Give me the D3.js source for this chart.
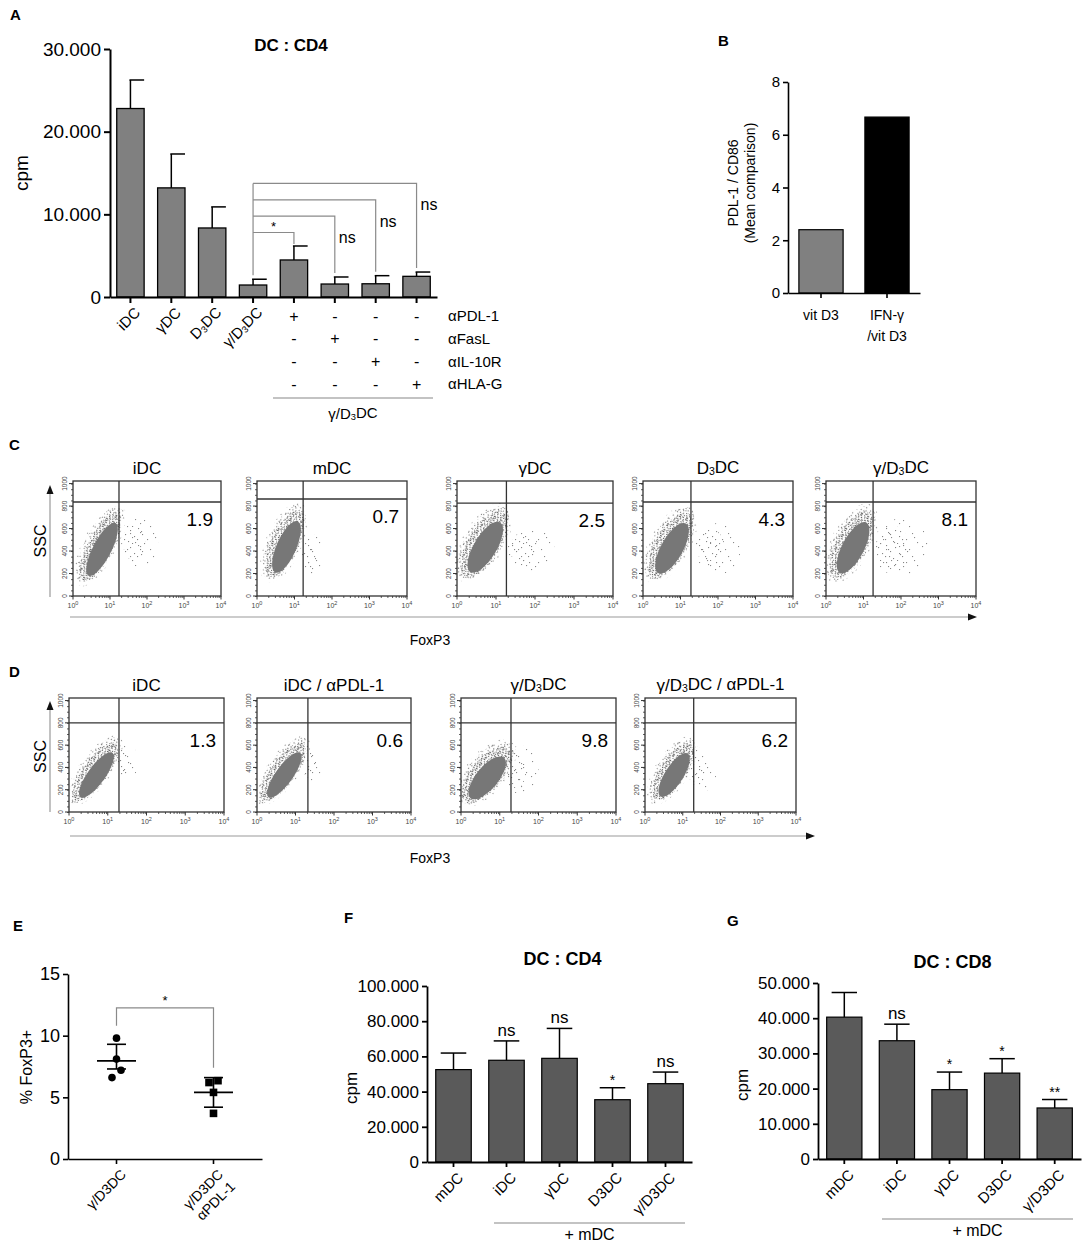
<!DOCTYPE html>
<html>
<head>
<meta charset="utf-8">
<script src="https://cdn.jsdelivr.net/npm/d3@7"></script>
<style>
  body { margin: 0; background: #fff; }
  svg { display: block; font-family: "Liberation Sans", Arial, sans-serif; }
</style>
</head>
<body>
<div id="fig"></div>
<script>
// ---- data ----
var aLabels = ["iDC", "γDC", "D₃DC", "γ/D₃DC", "", "", "", ""];
var aValues = [22800, 13200, 8350, 1450, 4480, 1570, 1600, 2500];
var aErrors = [3450, 4100, 2550, 700, 1690, 850, 980, 520];
var aTicks = [0, 10000, 20000, 30000];
var aAntibodies = ["αPDL-1", "αFasL", "αIL-10R", "αHLA-G"];
var aTreatment = [["+", "-", "-", "-"], ["-", "+", "-", "-"], ["-", "-", "+", "-"], ["-", "-", "-", "+"]];
var aCompareTo = [4, 5, 6, 7];
var aCompareLabels = ["*", "ns", "ns", "ns"];

var bLabels = ["vit D3", "IFN-γ\n/vit D3"];
var bValues = [2.4, 6.67];
var bTicks = [0, 2, 4, 6, 8];

var cTitles = ["iDC", "mDC", "γDC", "D₃DC", "γ/D₃DC"];
var cPercents = ["1.9", "0.7", "2.5", "4.3", "8.1"];
var cGateX = [17.5, 17, 18.5, 19, 18];
var cGateY = [836, 863, 827, 836, 836];
// main population: [log x bottom, SSC bottom, log x top, SSC top, half width in decades]
var cClouds = [[0.2, 120, 1.25, 790, 0.4], [0.29, 150, 1.15, 800, 0.42], [0.13, 160, 1.22, 790, 0.47],
               [0.19, 150, 1.25, 780, 0.47], [0.16, 150, 1.17, 790, 0.47]];
// FoxP3+ events: [log x centre, SSC centre, radius x in decades, radius y in SSC]
var cPositive = [[1.8, 480, 0.5, 220], [1.5, 360, 0.3, 190], [1.9, 420, 0.6, 200],
                 [2.0, 420, 0.6, 230], [2.0, 430, 0.75, 260]];

var dTitles = ["iDC", "iDC / αPDL-1", "γ/D₃DC", "γ/D₃DC / αPDL-1"];
var dPercents = ["1.3", "0.6", "9.8", "6.2"];
var dGateX = [19.5, 21, 19.5, 19.5];
var dGateY = [800, 800, 800, 800];
var dClouds = [[0.08, 90, 1.26, 660, 0.36], [0.08, 90, 1.26, 660, 0.36],
               [0.03, 90, 1.26, 610, 0.46], [0.21, 100, 1.24, 650, 0.39]];
var dPositive = [[1.5, 450, 0.3, 150], [1.45, 420, 0.3, 150], [1.55, 380, 0.45, 220], [1.5, 380, 0.4, 200]];

var eGroups = ["γ/D3DC", "γ/D3DC\nαPDL-1"];
var eCircles = [9.8, 8.1, 7.2, 6.6];
var eSquares = [6.2, 6.35, 5.4, 3.7];
var eMeans = [7.96, 5.4];
var eUpper = [9.3, 6.6];
var eLower = [7.3, 4.2];
var eTicks = [0, 5, 10, 15];

var fgLabels = ["mDC", "iDC", "γDC", "D3DC", "γ/D3DC"];
var fValues = [52500, 57800, 58900, 35400, 44500];
var fErrors = [9400, 11000, 17000, 6800, 6600];
var fSig = ["", "ns", "ns", "*", "ns"];
var fTicks = [0, 20000, 40000, 60000, 80000, 100000];

var gValues = [40300, 33600, 19700, 24400, 14500];
var gErrors = [7000, 4700, 5000, 4100, 2400];
var gSig = ["", "ns", "*", "*", "**"];
var gTicks = [0, 10000, 20000, 30000, 40000, 50000];

// ---- helpers ----
var svg = d3.select("#fig").append("svg").attr("width", 1084).attr("height", 1242);

function dotFormat(d) {
    return d === 0 ? "0" : d3.format(",")(d).replace(/,/g, ".");
}

// writes a label, rendering "₃" as a small lowered 3
function richText(text, str) {
    var parts = str.split("₃");
    parts.forEach(function(p, i) {
        if (i > 0) {
            text.append("tspan").attr("font-size", "0.62em").attr("dy", "0.12em").text("3");
            text.append("tspan").attr("dy", "-0.12em").text(p);
        } else {
            text.append("tspan").text(p);
        }
    });
}

function panelLetter(x, y, t) {
    svg.append("text").attr("x", x).attr("y", y).attr("font-size", 15)
        .attr("font-weight", "bold").text(t);
}

function styleAxis(g, width, fontSize) {
    g.selectAll("path, line").attr("stroke", "#000").attr("stroke-width", width);
    g.selectAll("text").attr("font-size", fontSize).attr("fill", "#000")
        .attr("font-family", "Liberation Sans, Arial, sans-serif");
}

function rotatedLabels(g, xs, labels, y0, size) {
    labels.forEach(function(l, i) {
        if (!l) return;
        var lines = l.split("\n");
        lines.forEach(function(line, k) {
            var t = g.append("text")
                .attr("transform", "translate(" + (xs(i) + xs.bandwidth() / 2 + 7 + k * 12) + "," + (y0 + 10 + k * 12) + ") rotate(-45)")
                .attr("text-anchor", "end").attr("dy", "0.35em").attr("font-size", size);
            richText(t, line);
        });
    });
}

// ---- stipple patterns for flow cytometry events ----
var defs = svg.append("defs");
function pattern(id, size, dots, color) {
    var p = defs.append("pattern").attr("id", id).attr("patternUnits", "userSpaceOnUse")
        .attr("width", size).attr("height", size);
    dots.forEach(function(d) {
        p.append("rect").attr("x", d[0]).attr("y", d[1]).attr("width", 1.1).attr("height", 1.1).attr("fill", color);
    });
}
pattern("stipDense", 7, [[0, 0], [3, 1], [5, 0], [1, 3], [4, 4], [6, 3], [2, 5], [5, 6], [0, 6]], "#666");
pattern("stipMed", 11, [[1, 0], [6, 2], [9, 1], [3, 4], [8, 6], [0, 7], [5, 8], [2, 10], [9, 9], [4, 1]], "#777");
pattern("stipSparse", 17, [[2, 1], [11, 3], [6, 7], [15, 9], [1, 12], [9, 14], [13, 16], [4, 5]], "#858585");
pattern("stipThin", 23, [[3, 2], [15, 4], [9, 10], [20, 13], [2, 17], [12, 20], [17, 8], [6, 14]], "#8a8a8a");

// ---- Panel A ----
(function() {
    var g = svg.append("g");
    var x = d3.scaleBand().domain(d3.range(aValues.length)).range([110, 437]).paddingInner(0.33).paddingOuter(0.165);
    var y = d3.scaleLinear().domain([0, 30000]).range([297, 49]);
    var bw = x.bandwidth();
    var cx = function(i) { return x(i) + bw / 2; };

    g.selectAll("rect.bar").data(aValues).enter().append("rect")
        .attr("x", function(d, i) { return x(i); })
        .attr("y", function(d) { return y(d); })
        .attr("width", bw)
        .attr("height", function(d) { return y(0) - y(d); })
        .attr("fill", "#808080").attr("stroke", "#000").attr("stroke-width", 1.3);

    aValues.forEach(function(v, i) {
        g.append("line").attr("x1", cx(i)).attr("x2", cx(i)).attr("y1", y(v)).attr("y2", y(v + aErrors[i]))
            .attr("stroke", "#000").attr("stroke-width", 1.5);
        g.append("line").attr("x1", cx(i) - 1).attr("x2", cx(i) + bw / 2).attr("y1", y(v + aErrors[i])).attr("y2", y(v + aErrors[i]))
            .attr("stroke", "#000").attr("stroke-width", 1.5);
    });

    var ya = g.append("g").attr("transform", "translate(110,0)")
        .call(d3.axisLeft(y).tickValues(aTicks).tickFormat(dotFormat).tickSize(6).tickSizeOuter(0));
    styleAxis(ya, 2, 19);
    var xa = g.append("g").attr("transform", "translate(0,297)")
        .call(d3.axisBottom(x).tickFormat("").tickSize(6).tickSizeOuter(0));
    styleAxis(xa, 2, 14);

    rotatedLabels(g, x, aLabels, 300, 15);

    g.append("text").attr("transform", "translate(28,173) rotate(-90)").attr("text-anchor", "middle")
        .attr("font-size", 19).text("cpm");
    g.append("text").attr("x", 291).attr("y", 51).attr("text-anchor", "middle")
        .attr("font-size", 17).attr("font-weight", "bold").text("DC : CD4");

    // significance brackets
    var from = 3, top = y(aValues[from] + aErrors[from]) - 4;
    aCompareTo.forEach(function(to, k) {
        var lvl = y(7800 + k * 1980);
        var end = y(aValues[to] + aErrors[to]) - 4;
        if (k === 0) end = y(aValues[to] + aErrors[to]) - 2;
        g.append("path").attr("d", "M" + cx(from) + "," + lvl + "H" + cx(to) + "V" + end)
            .attr("fill", "none").attr("stroke", "#8a8a8a").attr("stroke-width", 1.2);
        if (aCompareLabels[k] === "*") {
            g.append("text").attr("x", (cx(from) + cx(to)) / 2).attr("y", lvl - 2).attr("text-anchor", "middle")
                .attr("font-size", 13).text("*");
        } else {
            g.append("text").attr("x", cx(to) + 4).attr("y", lvl + 27).attr("font-size", 16).text(aCompareLabels[k]);
        }
    });
    g.append("line").attr("x1", cx(from)).attr("x2", cx(from)).attr("y1", y(7800 + 3 * 1980)).attr("y2", top)
        .attr("stroke", "#8a8a8a").attr("stroke-width", 1.2);

    // treatment table
    var rowY = d3.scalePoint().domain(aAntibodies).range([316, 384]);
    aAntibodies.forEach(function(ab, r) {
        g.append("text").attr("x", 448).attr("y", rowY(ab)).attr("dy", "0.35em").attr("font-size", 15).text(ab);
        aCompareTo.forEach(function(col, c) {
            g.append("text").attr("x", cx(col)).attr("y", rowY(ab)).attr("dy", "0.35em")
                .attr("text-anchor", "middle").attr("font-size", 16).text(aTreatment[c][r]);
        });
    });
    g.append("line").attr("x1", 273).attr("x2", 433).attr("y1", 398).attr("y2", 398)
        .attr("stroke", "#888").attr("stroke-width", 1.2);
    richText(g.append("text").attr("x", 353).attr("y", 419).attr("text-anchor", "middle").attr("font-size", 15), "γ/D₃DC");
})();

// ---- Panel B ----
(function() {
    var g = svg.append("g");
    var x = d3.scaleBand().domain(d3.range(bValues.length)).range([788, 920]).paddingInner(0.33).paddingOuter(0.165);
    var y = d3.scaleLinear().domain([0, 8]).range([293, 82]);
    var fills = ["#808080", "#000"];
    g.selectAll("rect").data(bValues).enter().append("rect")
        .attr("x", function(d, i) { return x(i); }).attr("y", function(d) { return y(d); })
        .attr("width", x.bandwidth()).attr("height", function(d) { return y(0) - y(d); })
        .attr("fill", function(d, i) { return fills[i]; }).attr("stroke", "#000").attr("stroke-width", 1.2);
    var ya = g.append("g").attr("transform", "translate(788,0)")
        .call(d3.axisLeft(y).tickValues(bTicks).tickSize(5).tickSizeOuter(0));
    styleAxis(ya, 1.6, 15);
    var xa = g.append("g").attr("transform", "translate(0,293)")
        .call(d3.axisBottom(x).tickFormat("").tickSize(5).tickSizeOuter(0));
    styleAxis(xa, 1.6, 14);
    bLabels.forEach(function(l, i) {
        l.split("\n").forEach(function(line, k) {
            g.append("text").attr("x", x(i) + x.bandwidth() / 2).attr("y", 320 + k * 21)
                .attr("text-anchor", "middle").attr("font-size", 14).text(line);
        });
    });
    g.append("text").attr("transform", "translate(738,183) rotate(-90)").attr("text-anchor", "middle")
        .attr("font-size", 14).text("PDL-1 / CD86");
    g.append("text").attr("transform", "translate(755,183) rotate(-90)").attr("text-anchor", "middle")
        .attr("font-size", 14).text("(Mean comparison)");
})();

// ---- flow cytometry dot plots (C and D) ----
var flowId = 0;
function flowPlot(left, top, w, h, title, pct, gx, gy, cloud, pos) {
    var g = svg.append("g");
    var x = d3.scaleLog().domain([1, 1e4]).range([left, left + w]);
    var y = d3.scaleLinear().domain([0, 1023]).range([top + h, top]);
    var lx = d3.scaleLinear().domain([0, 4]).range([left, left + w]);
    var id = "clip" + (flowId++);
    defs.append("clipPath").attr("id", id).append("rect").attr("x", left).attr("y", top).attr("width", w).attr("height", h);
    var events = g.append("g").attr("clip-path", "url(#" + id + ")");

    // FoxP3+ events
    var pr = [lx(pos[0]), y(pos[1]), lx(pos[0] + pos[2]) - lx(pos[0]), y(0) - y(pos[3])];
    events.append("ellipse").attr("cx", pr[0]).attr("cy", pr[1]).attr("rx", pr[2]).attr("ry", pr[3]).attr("fill", "url(#stipThin)");
    events.append("ellipse").attr("cx", pr[0] - pr[2] * 0.3).attr("cy", pr[1]).attr("rx", pr[2] * 0.6).attr("ry", pr[3] * 0.75)
        .attr("fill", "url(#stipSparse)");

    // main population
    var x0 = lx(cloud[0]), y0 = y(cloud[1]), x1 = lx(cloud[2]), y1 = y(cloud[3]);
    var mx = (x0 + x1) / 2, my = (y0 + y1) / 2;
    var len = Math.sqrt((x1 - x0) * (x1 - x0) + (y1 - y0) * (y1 - y0)) / 2;
    var ang = Math.atan2(y1 - y0, x1 - x0) * 180 / Math.PI;
    var hw = lx(cloud[4]) - lx(0);
    var rot = "rotate(" + ang + "," + mx + "," + my + ")";
    events.append("ellipse").attr("cx", mx).attr("cy", my).attr("rx", len * 1.08).attr("ry", hw * 1.15).attr("transform", rot).attr("fill", "url(#stipSparse)");
    events.append("ellipse").attr("cx", mx).attr("cy", my).attr("rx", len).attr("ry", hw).attr("transform", rot).attr("fill", "url(#stipMed)");
    events.append("ellipse").attr("cx", mx - 1).attr("cy", my + 1).attr("rx", len * 0.9).attr("ry", hw * 0.85).attr("transform", rot).attr("fill", "url(#stipDense)");
    events.append("ellipse").attr("cx", mx - 3).attr("cy", my + 4).attr("rx", len * 0.7).attr("ry", hw * 0.62).attr("transform", rot).attr("fill", "#777");

    // frame and gates
    g.append("rect").attr("x", left).attr("y", top).attr("width", w).attr("height", h)
        .attr("fill", "none").attr("stroke", "#333").attr("stroke-width", 1.3);
    g.append("line").attr("x1", left).attr("x2", left + w).attr("y1", y(gy)).attr("y2", y(gy)).attr("stroke", "#333").attr("stroke-width", 1.3);
    g.append("line").attr("x1", x(gx)).attr("x2", x(gx)).attr("y1", top).attr("y2", top + h).attr("stroke", "#333").attr("stroke-width", 1.3);

    // log axis
    var minor = [];
    [1, 10, 100, 1000].forEach(function(dec) { for (var k = 2; k < 10; k++) minor.push(dec * k); });
    var xa = g.append("g").attr("transform", "translate(0," + (top + h) + ")")
        .call(d3.axisBottom(x).tickValues(minor).tickSize(2).tickFormat(""));
    xa.select(".domain").remove();
    xa.selectAll("line").attr("stroke", "#333").attr("stroke-width", 0.8);
    [1, 10, 100, 1000, 10000].forEach(function(v, k) {
        g.append("line").attr("x1", x(v)).attr("x2", x(v)).attr("y1", top + h).attr("y2", top + h + 3.5).attr("stroke", "#333");
        var t = g.append("text").attr("x", x(v)).attr("y", top + h + 12).attr("text-anchor", "middle")
            .attr("font-size", 7).attr("fill", "#444");
        t.append("tspan").text("10");
        t.append("tspan").attr("font-size", 5.5).attr("dy", -3).text(k);
    });
    var ya = g.append("g").attr("transform", "translate(" + left + ",0)")
        .call(d3.axisLeft(y).tickValues(d3.range(0, 1001, 50)).tickSize(2).tickFormat(""));
    ya.select(".domain").remove();
    ya.selectAll("line").attr("stroke", "#333").attr("stroke-width", 0.8);
    d3.range(0, 1001, 200).forEach(function(v) {
        g.append("line").attr("x1", left - 4).attr("x2", left).attr("y1", y(v)).attr("y2", y(v)).attr("stroke", "#333");
        g.append("text").attr("transform", "translate(" + (left - 6) + "," + y(v) + ") rotate(-90)")
            .attr("text-anchor", "middle").attr("font-size", 6.5).attr("fill", "#444").text(v);
    });

    richText(g.append("text").attr("x", left + w / 2).attr("y", top - 7).attr("text-anchor", "middle").attr("font-size", 17), title);
    g.append("text").attr("x", left + w - 8).attr("y", y(gy) + 24).attr("text-anchor", "end").attr("font-size", 19).text(pct);
}

function arrowHead(x, y, dir) {
    var p = dir === "right" ? [[x, y], [x - 9, y - 3.5], [x - 9, y + 3.5]] : [[x, y], [x - 3.5, y + 9], [x + 3.5, y + 9]];
    svg.append("path").attr("d", d3.line()(p) + "Z").attr("fill", "#111");
}

function flowAxes(yTop, yBottom, yArrow, xEnd, labelY) {
    svg.append("line").attr("x1", 50).attr("x2", 50).attr("y1", yBottom).attr("y2", yTop + 6).attr("stroke", "#999").attr("stroke-width", 1.2);
    arrowHead(50, yTop, "up");
    svg.append("text").attr("transform", "translate(46," + ((yTop + yBottom) / 2) + ") rotate(-90)")
        .attr("text-anchor", "middle").attr("font-size", 16).text("SSC");
    svg.append("line").attr("x1", 70).attr("x2", xEnd - 6).attr("y1", yArrow).attr("y2", yArrow).attr("stroke", "#999").attr("stroke-width", 1.2);
    arrowHead(xEnd, yArrow, "right");
    svg.append("text").attr("x", 430).attr("y", labelY).attr("text-anchor", "middle").attr("font-size", 14).text("FoxP3");
}

var cLefts = [73, 257, 457, 643, 826];
var cWidths = [148, 150, 156, 150, 150];
cTitles.forEach(function(t, i) {
    flowPlot(cLefts[i], 481, cWidths[i], 115, t, cPercents[i], cGateX[i], cGateY[i], cClouds[i], cPositive[i]);
});
flowAxes(485, 597, 617, 977, 645);

var dLefts = [69, 257, 461, 645];
var dWidths = [155, 154, 155, 151];
dTitles.forEach(function(t, i) {
    flowPlot(dLefts[i], 698, dWidths[i], 114, t, dPercents[i], dGateX[i], dGateY[i], dClouds[i], dPositive[i]);
});
flowAxes(701, 812, 836, 815, 863);

// ---- Panel E ----
(function() {
    var g = svg.append("g");
    var x = d3.scaleBand().domain(d3.range(eGroups.length)).range([68, 262]);
    var y = d3.scaleLinear().domain([0, 15]).range([1159, 974]);
    var cx = function(i) { return x(i) + x.bandwidth() / 2; };
    var ya = g.append("g").attr("transform", "translate(68,0)")
        .call(d3.axisLeft(y).tickValues(eTicks).tickSize(5).tickSizeOuter(0));
    styleAxis(ya, 1.6, 18);
    var xa = g.append("g").attr("transform", "translate(0,1159)")
        .call(d3.axisBottom(x).tickFormat("").tickSize(5).tickSizeOuter(0));
    styleAxis(xa, 1.6, 14);
    rotatedLabels(g, x, eGroups, 1162, 14);
    g.append("text").attr("transform", "translate(32,1067) rotate(-90)").attr("text-anchor", "middle")
        .attr("font-size", 16).text("% FoxP3+");

    var jitter = [0, 0, 1, -1];
    eCircles.forEach(function(v, i) {
        g.append("circle").attr("cx", cx(0) + jitter[i] * 4.5).attr("cy", y(v)).attr("r", 3.8).attr("fill", "#000");
    });
    var sqJitter = [-1, 1, 0, 0];
    eSquares.forEach(function(v, i) {
        g.append("rect").attr("x", cx(1) + sqJitter[i] * 4.5 - 3.8).attr("y", y(v) - 3.8).attr("width", 7.6).attr("height", 7.6).attr("fill", "#000");
    });
    eMeans.forEach(function(m, i) {
        var s = function(a, b, yy) {
            g.append("line").attr("x1", cx(i) + a).attr("x2", cx(i) + b).attr("y1", yy).attr("y2", yy).attr("stroke", "#000").attr("stroke-width", 1.6);
        };
        s(-19.5, 19.5, y(m));
        s(-9.5, 9.5, y(eUpper[i]));
        s(-9.5, 9.5, y(eLower[i]));
        g.append("line").attr("x1", cx(i)).attr("x2", cx(i)).attr("y1", y(eUpper[i])).attr("y2", y(eLower[i])).attr("stroke", "#000").attr("stroke-width", 1.6);
    });
    g.append("path").attr("d", "M" + cx(0) + "," + y(10.8) + "V" + y(12.25) + "H" + cx(1) + "V" + y(7.4))
        .attr("fill", "none").attr("stroke", "#8a8a8a").attr("stroke-width", 1.2);
    g.append("text").attr("x", (cx(0) + cx(1)) / 2).attr("y", y(12.25) - 3).attr("text-anchor", "middle").attr("font-size", 13).text("*");
})();

// ---- Panels F and G ----
function cpmPanel(left, right, yTop, yBottom, max, ticks, values, errors, sig, title, titleY, lineY, lineX) {
    var g = svg.append("g");
    var x = d3.scaleBand().domain(d3.range(values.length)).range([left, right]).paddingInner(0.33).paddingOuter(0.165);
    var y = d3.scaleLinear().domain([0, max]).range([yBottom, yTop]);
    var bw = x.bandwidth();
    var cx = function(i) { return x(i) + bw / 2; };
    g.selectAll("rect").data(values).enter().append("rect")
        .attr("x", function(d, i) { return x(i); }).attr("y", function(d) { return y(d); })
        .attr("width", bw).attr("height", function(d) { return yBottom - y(d); })
        .attr("fill", "#5a5a5a").attr("stroke", "#000").attr("stroke-width", 1.2);
    values.forEach(function(v, i) {
        var e = y(v + errors[i]);
        g.append("line").attr("x1", cx(i)).attr("x2", cx(i)).attr("y1", y(v)).attr("y2", e).attr("stroke", "#000").attr("stroke-width", 1.5);
        g.append("line").attr("x1", cx(i) - bw * 0.36).attr("x2", cx(i) + bw * 0.36).attr("y1", e).attr("y2", e).attr("stroke", "#000").attr("stroke-width", 1.5);
        if (sig[i]) {
            var star = sig[i] !== "ns";
            g.append("text").attr("x", cx(i)).attr("y", e - (star ? 3 : 5)).attr("text-anchor", "middle")
                .attr("font-size", star ? 14 : 17).text(sig[i]);
        }
    });
    var ya = g.append("g").attr("transform", "translate(" + left + ",0)")
        .call(d3.axisLeft(y).tickValues(ticks).tickFormat(dotFormat).tickSize(5).tickSizeOuter(0));
    styleAxis(ya, 1.8, 17);
    var xa = g.append("g").attr("transform", "translate(0," + yBottom + ")")
        .call(d3.axisBottom(x).tickFormat("").tickSize(5).tickSizeOuter(0));
    styleAxis(xa, 1.8, 14);
    rotatedLabels(g, x, fgLabels, yBottom + 3, 15);
    g.append("text").attr("transform", "translate(" + (left - 70) + "," + ((yTop + yBottom) / 2 + 14) + ") rotate(-90)")
        .attr("text-anchor", "middle").attr("font-size", 17).text("cpm");
    g.append("text").attr("x", (left + right) / 2 + 3).attr("y", titleY).attr("text-anchor", "middle")
        .attr("font-size", 18).attr("font-weight", "bold").text(title);
    g.append("line").attr("x1", lineX[0]).attr("x2", lineX[1]).attr("y1", lineY).attr("y2", lineY)
        .attr("stroke", "#888").attr("stroke-width", 1.2);
    g.append("text").attr("x", (lineX[0] + lineX[1]) / 2).attr("y", lineY + 17).attr("text-anchor", "middle")
        .attr("font-size", 16).text("+ mDC");
}
cpmPanel(427, 692, 986, 1162, 100000, fTicks, fValues, fErrors, fSig, "DC : CD4", 965, 1223, [494, 685]);
cpmPanel(818, 1081, 983, 1159, 50000, gTicks, gValues, gErrors, gSig, "DC : CD8", 968, 1219, [882, 1073]);

panelLetter(10, 20, "A");
panelLetter(718, 46, "B");
panelLetter(9, 450, "C");
panelLetter(9, 677, "D");
panelLetter(13, 931, "E");
panelLetter(344, 923, "F");
panelLetter(727, 926, "G");
</script>
</body>
</html>
